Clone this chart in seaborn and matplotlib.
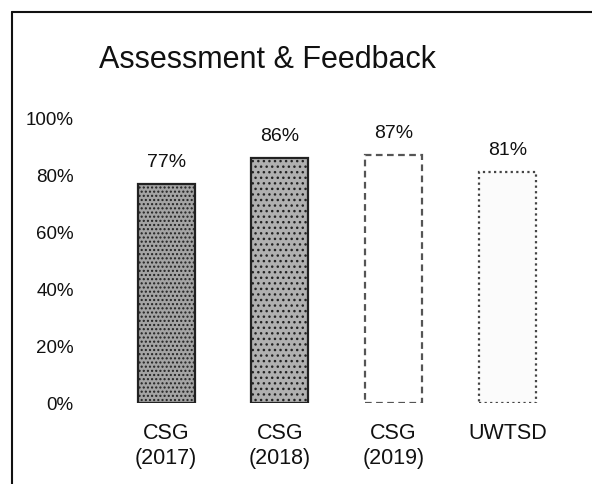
import matplotlib
matplotlib.use("Agg")
import matplotlib.pyplot as plt
import seaborn as sns
from matplotlib.lines import Line2D

categories = ["CSG\n(2017)", "CSG\n(2018)", "CSG\n(2019)", "UWTSD"]
values = [0.77, 0.86, 0.87, 0.81]
value_labels = ["77%", "86%", "87%", "81%"]
yticks = [0, 0.2, 0.4, 0.6, 0.8, 1.0]
ytick_labels = ["0%", "20%", "40%", "60%", "80%", "100%"]

sns.set_theme(style="white")
plt.rcParams["font.family"] = ["Liberation Sans", "DejaVu Sans"]

fig = plt.figure(figsize=(5.92, 4.84), dpi=100)
ax = fig.add_axes([0.127, 0.167, 0.826, 0.589])

palette = ["#a4a4a4", "#b0b0b0", "#ffffff", "#fbfbfb"]
sns.barplot(x=categories, y=values, hue=categories, palette=palette,
            legend=False, width=0.5, ax=ax, saturation=1)

# scanned look: grainy dark bars, faint outlined ones
edges = ["#222222", "#222222", "#555555", "#444444"]
styles = ["solid", "solid", (0, (3, 2)), (0, (1, 1.5))]
hatches = ["....", "...", None, None]
for bar, ec, ls, h in zip(ax.patches, edges, styles, hatches):
    bar.set_edgecolor(ec)
    bar.set_linestyle(ls)
    bar.set_linewidth(1.6)
    if h:
        bar.set_hatch(h)

for i, (v, lab) in enumerate(zip(values, value_labels)):
    ax.text(i, v + 0.045, lab, ha="center", va="bottom", fontsize=14,
            color="#111111", clip_on=False)

ax.set_ylim(0, 1.0)
ax.set_xlim(-0.8, 3.5)
ax.set_yticks(yticks)
ax.set_yticklabels(ytick_labels, fontsize=13.5, color="#111111")
ax.tick_params(axis="x", labelsize=15.5, pad=14, colors="#111111", length=0)
ax.tick_params(axis="y", pad=1, length=0)
for lbl in ax.get_xticklabels():
    lbl.set_linespacing(1.25)
ax.set_xlabel("")
ax.set_ylabel("")
sns.despine(ax=ax, left=True, bottom=True)

fig.text(0.452, 0.876, "Assessment & Feedback", ha="center", va="center",
         fontsize=22, color="#111111")

# frame around the figure (top and left edges visible in the scan)
fig.add_artist(Line2D([12 / 592, 12 / 592], [0, 1 - 12 / 484], color="#111111", lw=1.5))
fig.add_artist(Line2D([12 / 592, 1], [1 - 12 / 484, 1 - 12 / 484], color="#111111", lw=1.5))

fig.savefig("out.png", dpi=100)
